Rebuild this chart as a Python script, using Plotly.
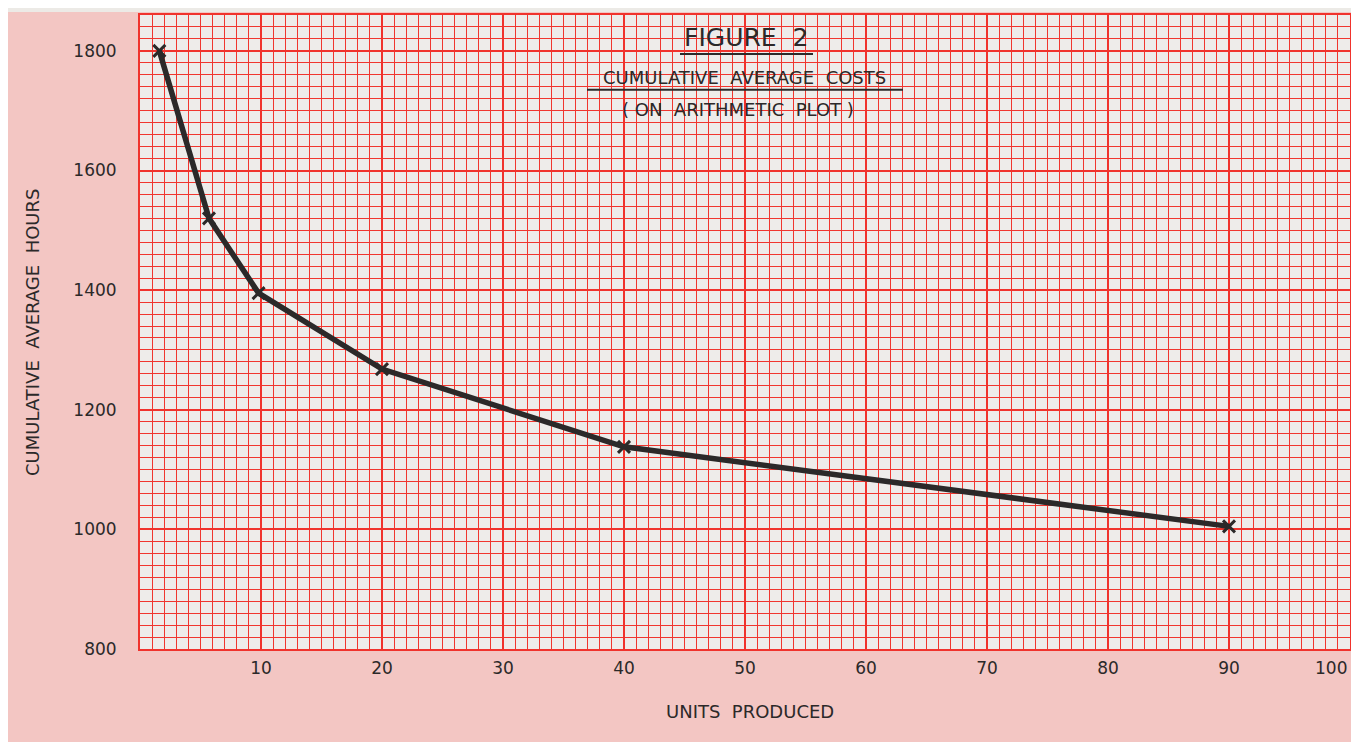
import plotly.graph_objects as go

# Data
units_produced = [1.6, 5.7, 9.8, 20, 40, 90]
cum_avg_hours = [1800, 1520, 1395, 1268, 1138, 1005]
x_tick_vals = [10, 20, 30, 40, 50, 60, 70, 80, 90]
x_last_tick = 100
y_tick_vals = [800, 1000, 1200, 1400, 1600, 1800]

# the page puts the figure 8px in from the top-left corner
OFF = 8
W, H = 1359 - OFF, 742 - OFF
ML, MR, MT, MB = 132, 9, 5, 93
PW = W - ML - MR
PH = H - MT - MB

RED = "#f0332d"
RED_MINOR = "#f0362f"
INK = "#2b2929"
FONT = "DejaVu Sans"


def px(xs):
    # screen pixel -> paper x
    return (xs - OFF - ML) / PW


def py(ys):
    # screen pixel -> paper y
    return (H - MB - (ys - OFF)) / PH


fig = go.Figure()
fig.add_trace(go.Scatter(
    x=units_produced,
    y=cum_avg_hours,
    mode="lines+markers",
    line=dict(color=INK, width=5.5),
    marker=dict(symbol="x-thin", size=12, line=dict(color=INK, width=3)),
    showlegend=False,
    hoverinfo="x+y",
))

fig.update_xaxes(
    range=[0, 100], tickvals=x_tick_vals,
    showgrid=True, gridcolor=RED, gridwidth=2,
    minor=dict(dtick=1, tick0=0, showgrid=True, gridcolor=RED_MINOR, gridwidth=1),
    showline=True, linecolor=RED, linewidth=2, mirror=True,
    zeroline=False, ticks="", ticklabelstandoff=3,
    tickfont=dict(family=FONT, size=17, color=INK),
)
fig.update_yaxes(
    range=[800, 1860], tickvals=y_tick_vals,
    showgrid=True, gridcolor=RED, gridwidth=2,
    minor=dict(dtick=20, tick0=800, showgrid=True, gridcolor=RED_MINOR, gridwidth=1),
    showline=True, linecolor=RED, linewidth=2, mirror=True,
    zeroline=False, ticks="", ticklabelstandoff=18,
    tickfont=dict(family=FONT, size=17, color=INK),
)

# the last x label sits pulled in from the paper edge
fig.add_annotation(text=str(x_last_tick), x=x_last_tick, xref="x", y=py(668), yref="paper",
                   xshift=-19, showarrow=False, xanchor="center", yanchor="middle",
                   font=dict(family=FONT, size=17, color=INK))

annots = [
    dict(text="FIGURE  2", x=px(746), y=py(36), size=25),
    dict(text="CUMULATIVE  AVERAGE  COSTS", x=px(744), y=py(76), size=18),
    dict(text="( ON  ARITHMETIC  PLOT )", x=px(738), y=py(108), size=18),
    dict(text="UNITS  PRODUCED", x=px(750), y=py(712), size=18),
]
for a in annots:
    fig.add_annotation(text=a["text"], x=a["x"], y=a["y"], xref="paper", yref="paper",
                       showarrow=False, xanchor="center", yanchor="middle",
                       font=dict(family=FONT, size=a["size"], color=INK))
fig.add_annotation(text="CUMULATIVE  AVERAGE  HOURS", x=px(33), y=py(332), xref="paper", yref="paper",
                   showarrow=False, textangle=-90, xanchor="center", yanchor="middle",
                   font=dict(family=FONT, size=18, color=INK))

# underlines under the title lines
for x0, x1, yy in [(680, 813, 52), (587, 903, 88)]:
    fig.add_shape(type="line", xref="paper", yref="paper",
                  x0=px(x0), x1=px(x1), y0=py(yy), y1=py(yy),
                  line=dict(color=INK, width=2))

# unprinted light margins of the page
fig.add_shape(type="rect", xref="paper", yref="paper", layer="above",
              x0=px(0), x1=px(1359), y0=py(10), y1=py(0),
              fillcolor="#eceae6", line=dict(width=0))
fig.add_shape(type="rect", xref="paper", yref="paper", layer="above",
              x0=px(1353), x1=px(1359), y0=py(742), y1=py(0),
              fillcolor="#eceae6", line=dict(width=0))

fig.update_layout(
    width=W, height=H,
    margin=dict(l=ML, r=MR, t=MT, b=MB),
    paper_bgcolor="#f3c6c3",
    plot_bgcolor="#eeecea",
    font=dict(family=FONT, color=INK),
)

fig.write_html("out.html")
